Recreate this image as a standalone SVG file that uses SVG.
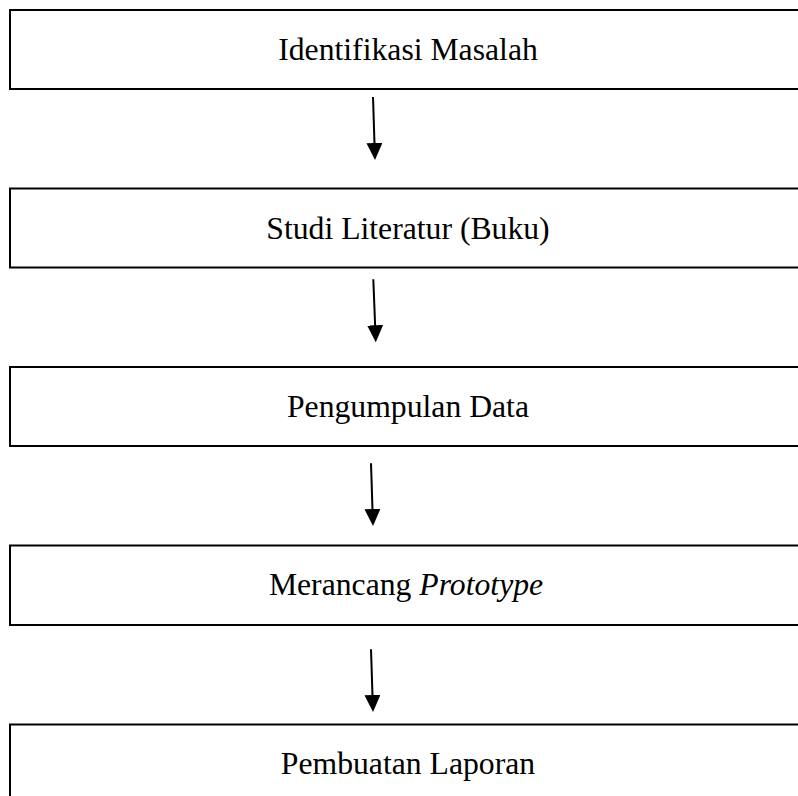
<svg xmlns="http://www.w3.org/2000/svg" width="798" height="796" viewBox="0 0 798 796">
<style>
.box{fill:#fff;stroke:#000;stroke-width:2}
.lbl{font-family:"Liberation Serif","Times New Roman",serif;font-size:31.7px;fill:#000;text-anchor:middle}
.conn{stroke:#000;stroke-width:2;fill:none}
</style>
<defs>
<marker id="ah" markerUnits="userSpaceOnUse" markerWidth="17" markerHeight="16" refX="7" refY="8" orient="auto" viewBox="0 0 17 16">
<path d="M0,0 L17,8 L0,16 z" fill="#000"/>
</marker>
</defs>
<rect width="798" height="796" fill="#fff"/>
<g id="node1"><rect class="box" x="10" y="10" width="820" height="79"/><text class="lbl" x="408" y="60">Identifikasi Masalah</text></g>
<g id="node2"><rect class="box" x="10" y="188.5" width="820" height="79"/><text class="lbl" x="408" y="238.5">Studi Literatur (Buku)</text></g>
<g id="node3"><rect class="box" x="10" y="367" width="820" height="79"/><text class="lbl" x="408" y="417">Pengumpulan Data</text></g>
<g id="node4"><rect class="box" x="10" y="545.5" width="820" height="79.5"/><text class="lbl" x="406" y="595">Merancang <tspan font-style="italic">Prototype</tspan></text></g>
<g id="node5"><rect class="box" x="10" y="724.5" width="820" height="100"/><text class="lbl" x="408" y="773.5">Pembuatan Laporan</text></g>
<g id="connectors">
<line class="conn" x1="373" y1="97" x2="374.7" y2="150" marker-end="url(#ah)"/>
<line class="conn" x1="373.3" y1="279.3" x2="375.4" y2="332.3" marker-end="url(#ah)"/>
<line class="conn" x1="371" y1="463.3" x2="372.7" y2="516" marker-end="url(#ah)"/>
<line class="conn" x1="371" y1="649.3" x2="372.7" y2="702" marker-end="url(#ah)"/>
</g>
</svg>
